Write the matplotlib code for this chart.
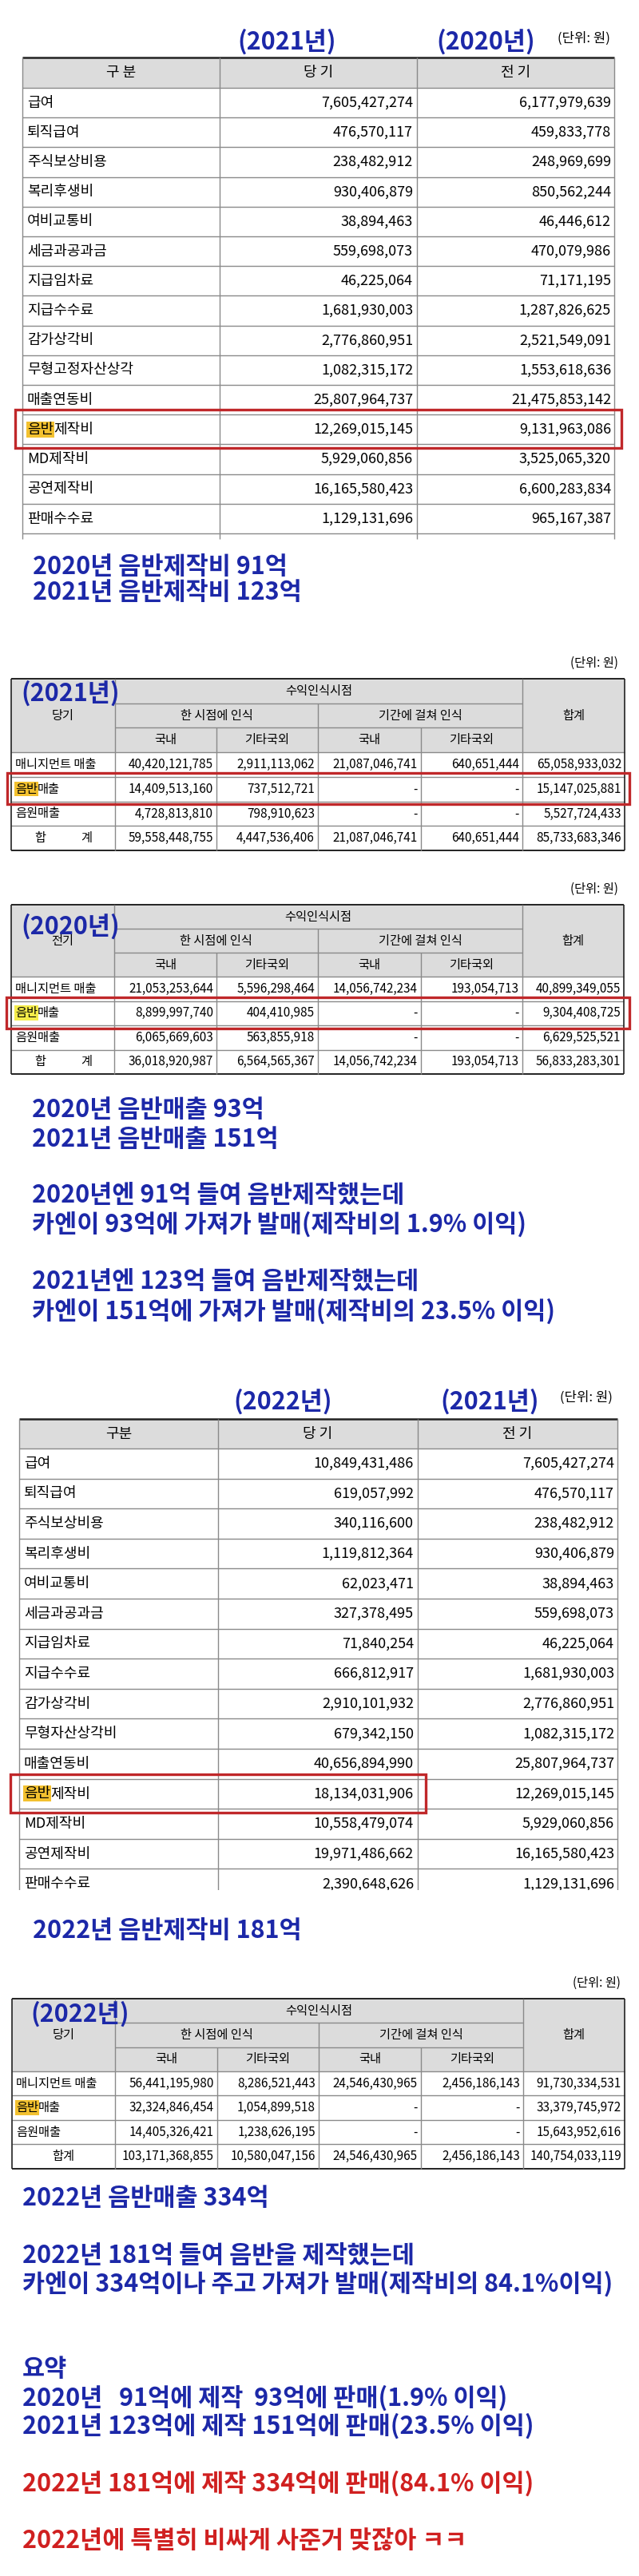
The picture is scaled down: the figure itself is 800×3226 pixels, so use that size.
import matplotlib
matplotlib.use('Agg')
import matplotlib.pyplot as plt
from matplotlib.patches import Rectangle

plt.rcParams['font.family'] = ['Noto Sans CJK KR', 'DejaVu Sans']

BLUE = '#1c28a8'
RED = '#d02020'
GRID = '#8a8a8a'
HEAD = '#dcdcdc'
BOX = '#c0282a'
HL = '#f3c12f'
HL_LIGHT = '#f4ec4a'

# ---- expense tables (판매비와관리비) ----
exp_labels = ['급여', '퇴직급여', '주식보상비용', '복리후생비', '여비교통비', '세금과공과금',
              '지급임차료', '지급수수료', '감가상각비', '무형고정자산상각', '매출연동비',
              '음반제작비', 'MD제작비', '공연제작비', '판매수수료']
exp_labels_22 = ['급여', '퇴직급여', '주식보상비용', '복리후생비', '여비교통비', '세금과공과금',
                 '지급임차료', '지급수수료', '감가상각비', '무형자산상각비', '매출연동비',
                 '음반제작비', 'MD제작비', '공연제작비', '판매수수료']
exp_2020 = [6177979639, 459833778, 248969699, 850562244, 46446612, 470079986,
            71171195, 1287826625, 2521549091, 1553618636, 21475853142,
            9131963086, 3525065320, 6600283834, 965167387]
exp_2021 = [7605427274, 476570117, 238482912, 930406879, 38894463, 559698073,
            46225064, 1681930003, 2776860951, 1082315172, 25807964737,
            12269015145, 5929060856, 16165580423, 1129131696]
exp_2022 = [10849431486, 619057992, 340116600, 1119812364, 62023471, 327378495,
            71840254, 666812917, 2910101932, 679342150, 40656894990,
            18134031906, 10558479074, 19971486662, 2390648626]

# ---- revenue tables (수익인식시점) ----
rev_rows = ['매니지먼트 매출', '음반매출', '음원매출', '합계']
rev_cols = ['국내', '기타국외', '국내', '기타국외']
rev_2021 = [[40420121785, 2911113062, 21087046741, 640651444, 65058933032],
            [14409513160, 737512721, None, None, 15147025881],
            [4728813810, 798910623, None, None, 5527724433],
            [59558448755, 4447536406, 21087046741, 640651444, 85733683346]]
rev_2020 = [[21053253644, 5596298464, 14056742234, 193054713, 40899349055],
            [8899997740, 404410985, None, None, 9304408725],
            [6065669603, 563855918, None, None, 6629525521],
            [36018920987, 6564565367, 14056742234, 193054713, 56833283301]]
rev_2022 = [[56441195980, 8286521443, 24546430965, 2456186143, 91730334531],
            [32324846454, 1054899518, None, None, 33379745972],
            [14405326421, 1238626195, None, None, 15643952616],
            [103171368855, 10580047156, 24546430965, 2456186143, 140754033119]]

fig = plt.figure(figsize=(8, 32.26), dpi=100)
ax = fig.add_axes([0, 0, 1, 1])
ax.set_xlim(0, 800)
ax.set_ylim(3226, 0)
ax.axis('off')


def fmt(v):
    return '-' if v is None else f'{v:,}'


def say(x, y, s, color=BLUE, size=22, ha='left'):
    ax.text(x, y, s, color=color, fontsize=size, ha=ha, va='center', fontweight='bold')


def label(x, y, s, size, hl=HL):
    # the "음반" part is marked with a highlighter in the screenshot
    if s.startswith('음반'):
        t1 = ax.text(x, y, '음반', fontsize=size, ha='left', va='center',
                     bbox=dict(facecolor=hl, edgecolor='none', pad=0.6))
        ax.annotate(s[2:], xy=(1, 0.5), xycoords=t1, fontsize=size,
                    ha='left', va='center')
    else:
        ax.text(x, y, s, fontsize=size, ha='left', va='center')


def red_box(x0, y0, x1, y1):
    ax.add_patch(Rectangle((x0, y0), x1 - x0, y1 - y0, fill=False,
                           edgecolor=BOX, lw=2.4, zorder=5))


def expense_table(top, edges, head_h, row_h, labels, cur, prev, heads, tail=0):
    left, right = edges[0], edges[-1]
    hb = top + head_h
    n = len(labels)
    bottom = hb + n * row_h
    ax.add_patch(Rectangle((left, top), right - left, head_h, facecolor=HEAD, edgecolor='none'))
    ax.hlines([hb + i * row_h for i in range(n + 1)], left, right, color=GRID, lw=1)
    ax.hlines(top, left, right, color='#222222', lw=1.8)
    ax.vlines(edges, top, bottom + tail, color=GRID, lw=1)
    for j, h in enumerate(heads):
        ax.text((edges[j] + edges[j + 1]) / 2, hb - head_h / 2, h,
                ha='center', va='center', fontsize=13)
    for i, (lab, a, b) in enumerate(zip(labels, cur, prev)):
        yc = hb + (i + 0.5) * row_h
        label(left + 6, yc, lab, 13)
        ax.text(edges[2] - 5, yc, fmt(a), ha='right', va='center', fontsize=13)
        ax.text(edges[3] - 4, yc, fmt(b), ha='right', va='center', fontsize=13)


def revenue_table(top, edges, hrow, drow, corner, rows, hl=HL, spread_total=True):
    e = edges
    hb = top + 3 * hrow
    bottom = hb + 4 * drow
    ax.add_patch(Rectangle((e[0], top), e[6] - e[0], 3 * hrow, facecolor=HEAD, edgecolor='none'))
    ax.hlines([top + hrow, top + 2 * hrow], e[1], e[5], color=GRID, lw=1)
    ax.hlines([hb + i * drow for i in range(4)], e[0], e[6], color=GRID, lw=1)
    ax.hlines([top, bottom], e[0], e[6], color='#222222', lw=1.4)
    ax.vlines([e[0], e[6]], top, bottom, color='#222222', lw=1.2)
    ax.vlines([e[1], e[5]], top, bottom, color=GRID, lw=1)
    ax.vlines(e[3], top + hrow, bottom, color=GRID, lw=1)
    ax.vlines([e[2], e[4]], top + 2 * hrow, bottom, color=GRID, lw=1)

    fs = 11
    ax.text((e[1] + e[5]) / 2, top + hrow / 2, '수익인식시점', ha='center', va='center', fontsize=fs)
    ax.text((e[1] + e[3]) / 2, top + 1.5 * hrow, '한 시점에 인식', ha='center', va='center', fontsize=fs)
    ax.text((e[3] + e[5]) / 2, top + 1.5 * hrow, '기간에 걸쳐 인식', ha='center', va='center', fontsize=fs)
    for j, c in enumerate(rev_cols):
        ax.text((e[j + 1] + e[j + 2]) / 2, top + 2.5 * hrow, c, ha='center', va='center', fontsize=fs)
    ax.text((e[5] + e[6]) / 2, top + 1.5 * hrow, '합계', ha='center', va='center', fontsize=fs)
    ax.text((e[0] + e[1]) / 2, top + 1.5 * hrow, corner, ha='center', va='center', fontsize=fs)

    for i, (name, vals) in enumerate(zip(rev_rows, rows)):
        yc = hb + (i + 0.5) * drow
        if name == '합계':
            if spread_total:
                ax.text(e[0] + 36, yc, '합', ha='center', va='center', fontsize=fs)
                ax.text(e[0] + 94, yc, '계', ha='center', va='center', fontsize=fs)
            else:
                ax.text((e[0] + e[1]) / 2, yc, name, ha='center', va='center', fontsize=fs)
        else:
            label(e[0] + 5, yc, name, fs, hl)
        for j, v in enumerate(vals):
            ax.text(e[j + 2] - 4, yc, fmt(v), ha='right', va='center', fontsize=fs)


# ---------------- section 1 : 2021 vs 2020 expenses ----------------
say(359, 52, '(2021년)', ha='center')
say(608, 52, '(2020년)', ha='center')
ax.text(764, 48, '(단위: 원)', ha='right', va='center', fontsize=12)
expense_table(72, [28, 275, 522, 769], 38, 37.2, exp_labels, exp_2021, exp_2020,
              ['구 분', '당 기', '전 기'], tail=7)
red_box(19, 513, 778, 561)

say(41, 710, '2020년 음반제작비 91억')
say(41, 742, '2021년 음반제작비 123억')

# ---------------- section 2 : revenue 2021 / 2020 ----------------
ax.text(774, 830, '(단위: 원)', ha='right', va='center', fontsize=11)
revenue_table(850, [14, 144, 271, 398, 527, 654, 782], 30.7, 30.75, '당기', rev_2021)
say(26, 868, '(2021년)')
red_box(9, 968, 788, 1007)

ax.text(774, 1113, '(단위: 원)', ha='right', va='center', fontsize=11)
revenue_table(1133, [14, 143, 271, 398, 527, 654, 781], 30, 30.5, '전기', rev_2020, hl=HL_LIGHT)
say(26, 1160, '(2020년)')
red_box(8, 1249, 788, 1288)

say(40, 1390, '2020년 음반매출 93억')
say(40, 1427, '2021년 음반매출 151억')
say(40, 1497, '2020년엔 91억 들여 음반제작했는데')
say(40, 1533, '카엔이 93억에 가져가 발매(제작비의 1.9% 이익)')
say(40, 1605, '2021년엔 123억 들여 음반제작했는데')
say(40, 1642, '카엔이 151억에 가져가 발매(제작비의 23.5% 이익)')

# ---------------- section 3 : 2022 vs 2021 expenses ----------------
say(354, 1755, '(2022년)', ha='center')
say(613, 1755, '(2021년)', ha='center')
ax.text(767, 1750, '(단위: 원)', ha='right', va='center', fontsize=12)
expense_table(1777, [24, 273, 523, 773], 37, 37.6, exp_labels_22, exp_2022, exp_2021,
              ['구분', '당 기', '전 기'])
# the screenshot is cut off in the middle of the last row
ax.add_patch(Rectangle((0, 2367), 800, 30, facecolor='white', edgecolor='none', zorder=4))
red_box(13, 2222, 533, 2270)

say(41, 2418, '2022년 음반제작비 181억')

# ---------------- section 4 : revenue 2022 ----------------
ax.text(777, 2483, '(단위: 원)', ha='right', va='center', fontsize=11)
revenue_table(2503, [15, 144, 272, 399, 527, 655, 782], 30.3, 30.5, '당기', rev_2022,
              spread_total=False)
say(38, 2522, '(2022년)')

say(28, 2753, '2022년 음반매출 334억')
say(28, 2825, '2022년 181억 들여 음반을 제작했는데')
say(28, 2860, '카엔이 334억이나 주고 가져가 발매(제작비의 84.1%이익)')

say(28, 2967, '요약')
say(28, 3003, '2020년   91억에 제작  93억에 판매(1.9% 이익)')
say(28, 3038, '2021년 123억에 제작 151억에 판매(23.5% 이익)')
say(28, 3110, '2022년 181억에 제작 334억에 판매(84.1% 이익)', color=RED)
say(28, 3182, '2022년에 특별히 비싸게 사준거 맞잖아 ㅋㅋ', color=RED)

fig.savefig('out.png', dpi=100)
